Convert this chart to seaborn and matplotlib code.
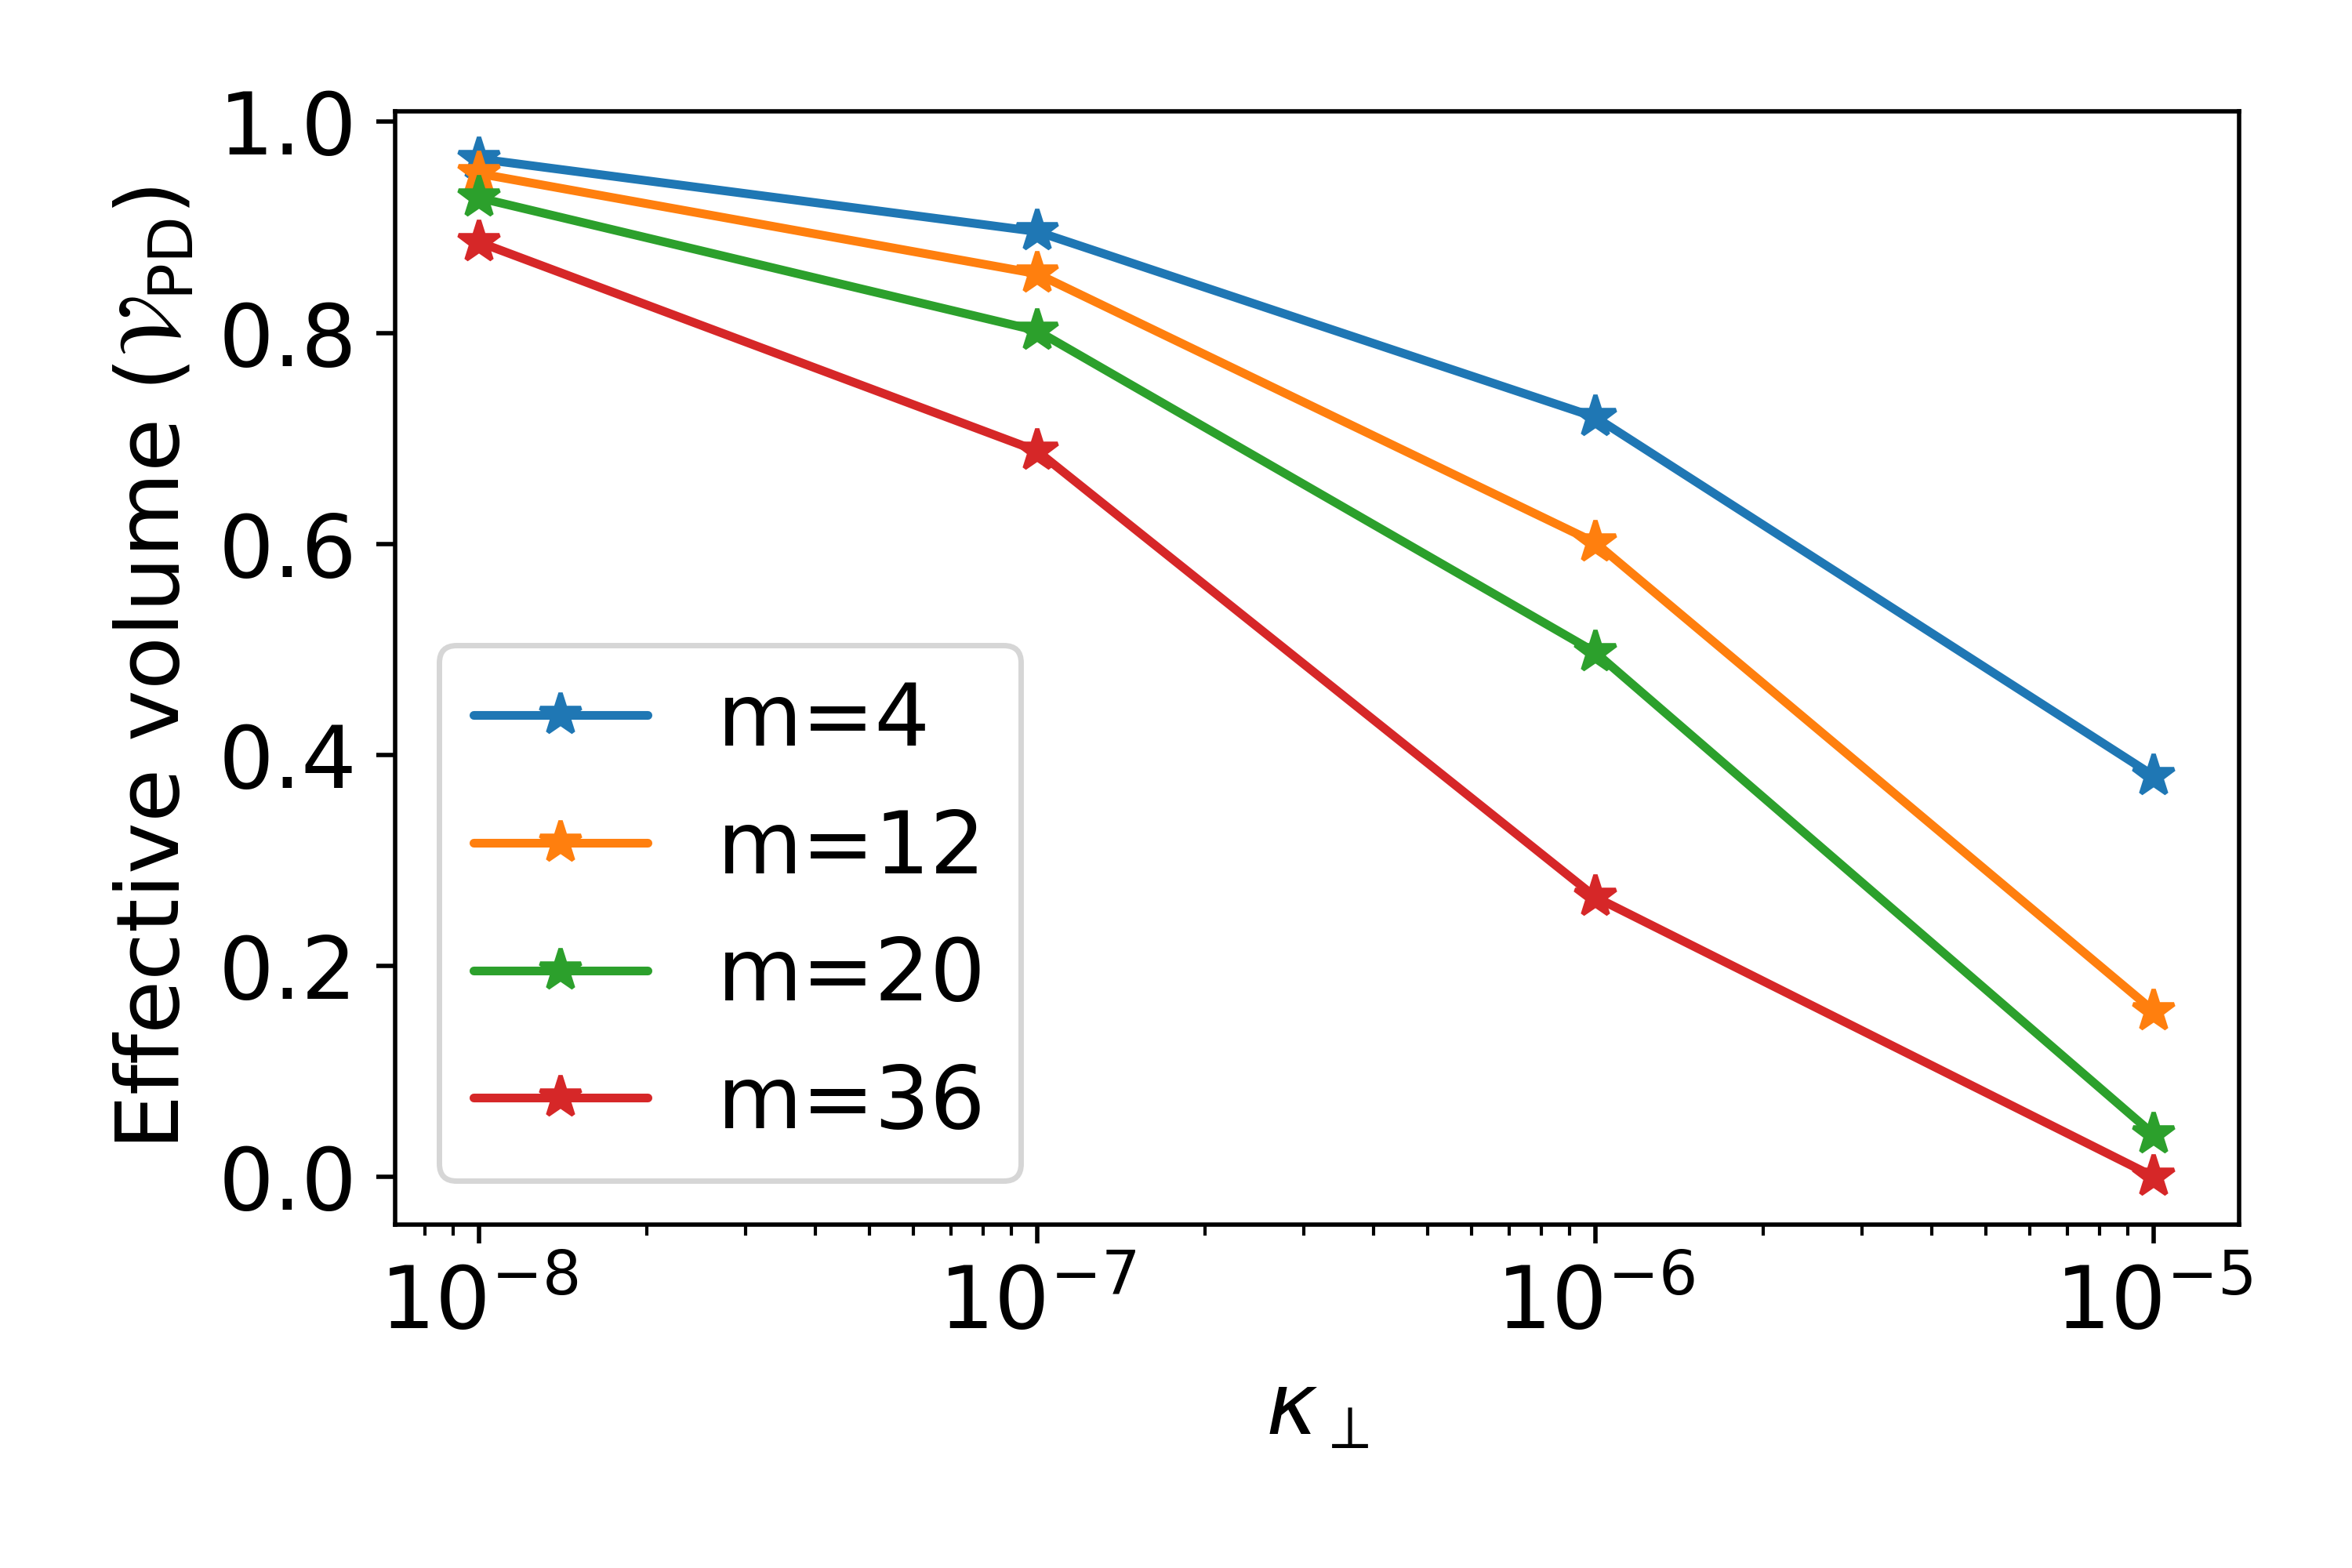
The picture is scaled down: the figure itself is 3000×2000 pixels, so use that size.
import numpy as np
import pandas as pd
import matplotlib
matplotlib.use("Agg")
import matplotlib.pyplot as plt
import seaborn as sns

kappa = [1e-8, 1e-7, 1e-6, 1e-5]
labels = ["m=4", "m=12", "m=20", "m=36"]
v_m4 = [0.965, 0.896, 0.720, 0.380]
v_m12 = [0.951, 0.856, 0.601, 0.157]
v_m20 = [0.928, 0.802, 0.497, 0.040]
v_m36 = [0.886, 0.688, 0.265, 0.000]

series = [v_m4, v_m12, v_m20, v_m36]
df = pd.DataFrame({
    "kappa": np.tile(kappa, len(labels)),
    "value": np.concatenate(series),
    "m": np.repeat(labels, len(kappa)),
})

sns.set_style("ticks")
plt.rcParams["font.family"] = ["DejaVu Sans"]
plt.rcParams["mathtext.fontset"] = "dejavusans"
for k in ["text.color", "axes.labelcolor", "xtick.color", "ytick.color", "axes.edgecolor"]:
    plt.rcParams[k] = "black"

fig, ax = plt.subplots(figsize=(6, 4), dpi=500)
fig.subplots_adjust(left=0.168, right=0.952, top=0.929, bottom=0.219)

palette = ["#1f77b4", "#ff7f0e", "#2ca02c", "#d62728"]
sns.lineplot(data=df, x="kappa", y="value", hue="m", hue_order=labels,
             palette=palette, marker="*", markersize=8, markeredgecolor="auto",
             markeredgewidth=0.8, linewidth=1.6, ax=ax)
ax.set_xscale("log")
ax.set_xlim(10**-8.15, 10**-4.847)
ax.set_ylim(-0.0455, 1.01)
ax.set_yticks([0.0, 0.2, 0.4, 0.6, 0.8, 1.0])
ax.tick_params(labelsize=16, colors="black")
ax.set_xlabel(r"$\kappa_\perp$", fontsize=16)
ax.set_ylabel(r"Effective volume ($\mathcal{V}_{\rm PD}$)", fontsize=16)
for s in ax.spines.values():
    s.set_visible(True)
    s.set_color("black")
leg = ax.legend(fontsize=16, loc="lower left", title=None,
                bbox_to_anchor=(0.0, 0.0), handlelength=2.0)
fig.savefig("out.png", dpi=500)
